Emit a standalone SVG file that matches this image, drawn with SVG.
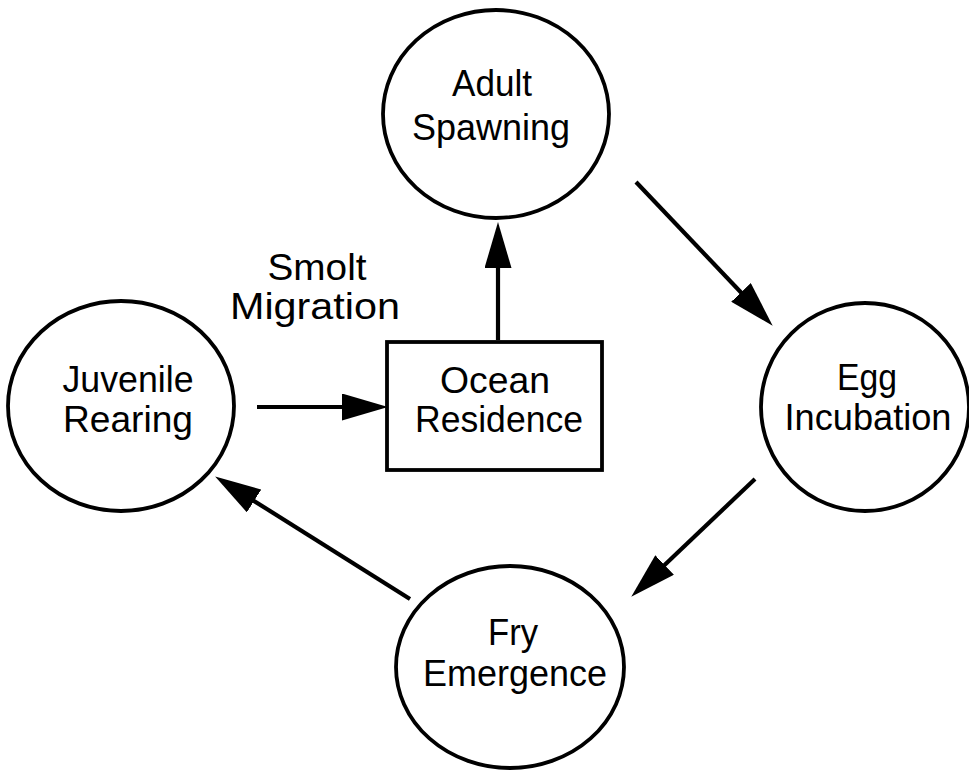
<svg xmlns="http://www.w3.org/2000/svg" width="969" height="770" viewBox="0 0 969 770">
  <style>
    .node { fill: #ffffff; stroke: #000000; stroke-width: 3.8; }
    .label { font-family: "Liberation Sans", Arial, Helvetica, sans-serif; font-size: 36px; fill: #000000; text-anchor: middle; }
    .edge { stroke: #000000; stroke-width: 4.2; fill: none; marker-end: url(#head); }
  </style>
  <defs>
    <marker id="head" viewBox="0 0 46 27" refX="8" refY="13.5" markerWidth="46" markerHeight="27" markerUnits="userSpaceOnUse" orient="auto">
      <path d="M0,0 L46,13.5 L0,27 z" fill="#000000"/>
    </marker>
  </defs>
  <rect width="969" height="770" fill="#ffffff"/>

  <g id="adult-spawning">
    <ellipse class="node" cx="496" cy="114" rx="113" ry="104"/>
    <text class="label" x="492" y="96" textLength="80" lengthAdjust="spacingAndGlyphs">Adult</text>
    <text class="label" x="491" y="140" textLength="158" lengthAdjust="spacingAndGlyphs">Spawning</text>
  </g>

  <g id="egg-incubation">
    <ellipse class="node" cx="865" cy="407" rx="104" ry="104"/>
    <text class="label" x="867" y="390" textLength="60" lengthAdjust="spacingAndGlyphs">Egg</text>
    <text class="label" x="868" y="430" textLength="167" lengthAdjust="spacingAndGlyphs">Incubation</text>
  </g>

  <g id="fry-emergence">
    <ellipse class="node" cx="510" cy="667" rx="114" ry="101"/>
    <text class="label" x="513" y="645" textLength="50" lengthAdjust="spacingAndGlyphs">Fry</text>
    <text class="label" x="515" y="686" textLength="184" lengthAdjust="spacingAndGlyphs">Emergence</text>
  </g>

  <g id="juvenile-rearing">
    <ellipse class="node" cx="121" cy="406" rx="113" ry="105"/>
    <text class="label" x="128" y="392" textLength="131" lengthAdjust="spacingAndGlyphs">Juvenile</text>
    <text class="label" x="128" y="432" textLength="130" lengthAdjust="spacingAndGlyphs">Rearing</text>
  </g>

  <g id="ocean-residence">
    <rect class="node" x="387" y="342" width="215" height="128"/>
    <text class="label" x="495" y="393" textLength="110" lengthAdjust="spacingAndGlyphs">Ocean</text>
    <text class="label" x="499" y="432" textLength="168" lengthAdjust="spacingAndGlyphs">Residence</text>
  </g>

  <g id="smolt-migration-label">
    <text class="label" x="317" y="280" textLength="99" lengthAdjust="spacingAndGlyphs">Smolt</text>
    <text class="label" x="315" y="319" textLength="170" lengthAdjust="spacingAndGlyphs">Migration</text>
  </g>

  <g id="connectors">
    <line class="edge" x1="498" y1="340" x2="498" y2="260"/>
    <line class="edge" x1="636" y1="182" x2="746.5" y2="298.2"/>
    <line class="edge" x1="755" y1="479" x2="658.8" y2="570.5"/>
    <line class="edge" x1="410" y1="599" x2="247.3" y2="496.7"/>
    <line class="edge" x1="257" y1="407" x2="350" y2="407"/>
  </g>
</svg>
